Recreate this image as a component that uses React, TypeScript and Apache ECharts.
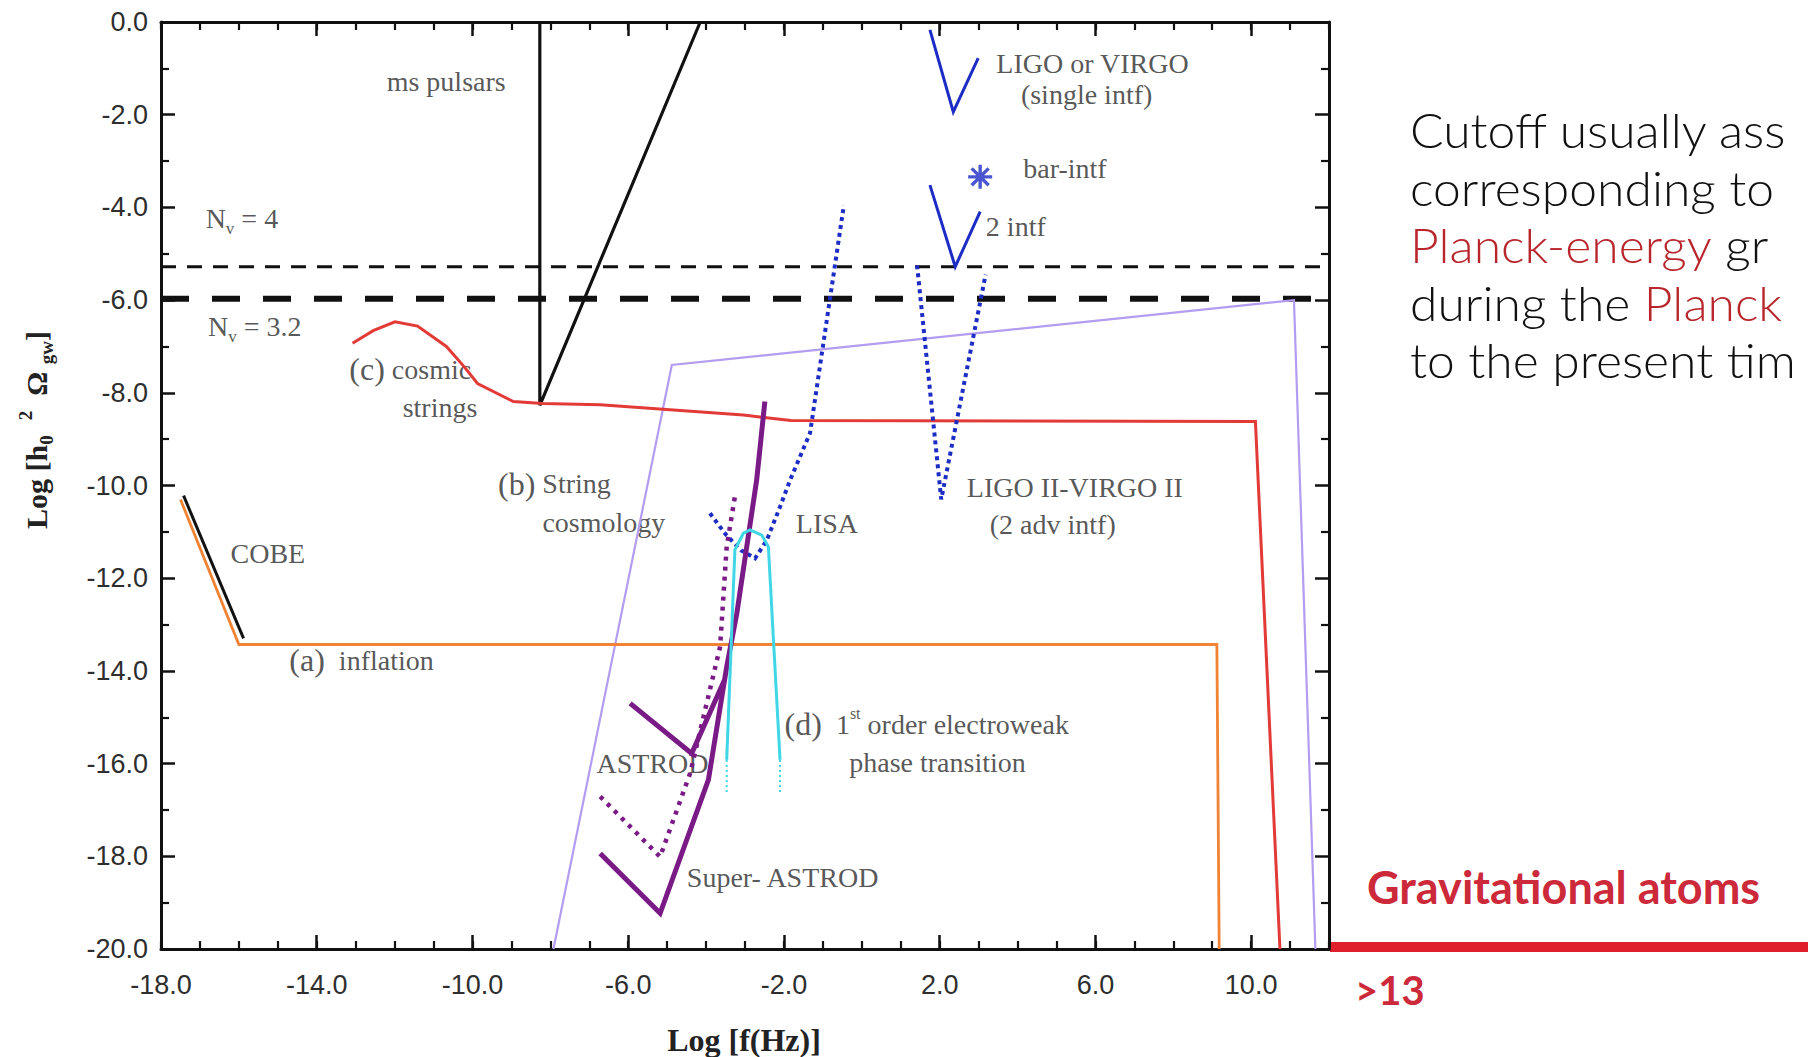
import React, { useEffect, useRef } from "react";
import * as echarts from "echarts";

// ---------- axes ----------
const X_MIN = -18;
const X_MAX = 12;
const Y_MIN = -20;
const Y_MAX = 0;
const X_MAJOR = 4;
const X_MINOR = 1;
const Y_MAJOR = 2;

// ---------- curves: [log f(Hz), log h0^2 Omega_gw] ----------
const nv4Line = [[-18, -5.28], [12, -5.28]];
const nv32Line = [[-18, -5.97], [12, -5.97]];
const msPulsars = [[-8.27, 0], [-8.27, -8.27], [-4.15, 0]];
const inflationA = [[-17.5, -10.3], [-16.0, -13.43], [9.12, -13.43], [9.18, -20]];
const cobe = [[-17.42, -10.22], [-15.88, -13.3]];
const cosmicStringsC = [
  [-13.08, -6.93], [-12.55, -6.66], [-11.99, -6.47], [-11.41, -6.56], [-10.67, -7.0],
  [-10.21, -7.44], [-9.87, -7.8], [-8.95, -8.19], [-8.2, -8.23], [-6.72, -8.26],
  [-3.04, -8.48], [-1.82, -8.6], [10.11, -8.62], [10.74, -20],
];
const stringCosmologyB = [[-7.92, -20], [-4.88, -7.4], [11.1, -6.0], [11.65, -20]];
const ligoSingle = [[1.75, -0.17], [2.35, -1.94], [2.99, -0.78]];
const ligoTwo = [[1.75, -3.52], [2.4, -5.28], [3.04, -4.09]];
const barIntf = [[3.04, -3.34]];
const ligoAdv = [[1.42, -5.25], [2.04, -10.3], [3.18, -5.45]];
const lisa = [
  [-3.9, -10.6], [-3.5, -11.05], [-3.1, -11.4], [-2.74, -11.57], [-2.44, -11.18],
  [-2.1, -10.46], [-1.84, -9.88], [-1.33, -8.87], [-0.46, -3.95],
];
const astrod = [[-5.95, -14.7], [-4.37, -15.78], [-3.53, -14.2]];
const superAstrod = [
  [-6.72, -17.94], [-5.18, -19.23], [-3.94, -16.35], [-3.47, -13.91], [-3.21, -12.76],
  [-2.7, -9.88], [-2.49, -8.19],
];
const superAstrodDotted = [
  [-6.72, -16.71], [-5.18, -18.01], [-4.41, -16.21], [-3.64, -13.48], [-3.47, -11.32], [-3.26, -10.24],
];
const electroweakD = [
  [-3.47, -15.92], [-3.26, -11.39], [-3.04, -11.03], [-2.87, -10.96], [-2.57, -11.07],
  [-2.4, -11.32], [-2.1, -15.92],
];
const electroweakTailL = [[-3.47, -15.92], [-3.47, -16.62]];
const electroweakTailR = [[-2.1, -15.92], [-2.1, -16.62]];

// ---------- in-plot annotations [text, x, y] (left edge anchored) ----------
const annotations: [string, number, number][] = [
  ["ms pulsars", -12.21, -1.28],
  ["{n|N}{s|v}{n| = 4}", -16.86, -4.23],
  ["{n|N}{s|v}{n| = 3.2}", -16.8, -6.56],
  ["{p|(c)} cosmic", -13.17, -7.49],
  ["strings", -11.8, -8.31],
  ["{p|(b)} String", -9.35, -9.96],
  ["cosmology", -8.21, -10.79],
  ["COBE", -16.22, -11.47],
  ["{p|(a)}  inflation", -14.71, -13.77],
  ["LISA", -1.7, -10.81],
  ["LIGO II-VIRGO II", 2.69, -10.05],
  ["(2 adv intf)", 3.28, -10.84],
  ["LIGO or VIRGO", 3.45, -0.89],
  ["(single intf)", 4.08, -1.56],
  ["bar-intf", 4.14, -3.16],
  ["2 intf", 3.18, -4.42],
  ["ASTROD", -6.82, -15.99],
  ["Super- ASTROD", -4.5, -18.45],
  ["{p|(d)}  {n|1}{sup|st}{n| order electroweak}", -1.99, -15.15],
  ["phase transition", -0.33, -15.97],
];

// ---------- slide text ----------
const slideLines = [
  "Cutoff usually ass",
  "corresponding to",
  "{r|Planck-energy} gr",
  "during the {r|Planck}",
  "to the present tim",
];
const atomsLabel = "Gravitational atoms";
const atomsValue = ">13";

const ASTERISK =
  "path://M-1.4,-10L1.4,-10L1.4,10L-1.4,10Z M-10,-1.4L10,-1.4L10,1.4L-10,1.4Z " +
  "M-8.061,-6.081L-6.081,-8.061L8.061,6.081L6.081,8.061Z " +
  "M-6.081,8.061L-8.061,6.081L6.081,-8.061L8.061,-6.081Z";

function lineSeries(data: number[][], color: string, width: number, type: any = "solid", z = 3) {
  return {
    type: "line",
    data,
    symbol: "none",
    showSymbol: false,
    silent: true,
    z,
    lineStyle: { color, width, type, cap: "butt", join: "miter" },
  };
}

export default function App() {
  const ref = useRef<HTMLDivElement>(null);

  useEffect(() => {
    if (!ref.current) return;
    const chart = echarts.init(ref.current, null, { renderer: "svg" });

    const AX = "#111";
    const tickLabel = { fontFamily: "Liberation Sans", fontSize: 27, color: "#2e2e2e" };

    const majorX = (pos: string, labels: boolean) => ({
      type: "value",
      gridIndex: 0,
      position: pos,
      min: X_MIN,
      max: X_MAX,
      interval: X_MAJOR,
      axisLine: { show: true, onZero: false, lineStyle: { color: AX, width: 3 } },
      axisTick: { show: true, inside: true, length: 14, lineStyle: { color: AX, width: 2.5 } },
      axisLabel: {
        show: labels,
        showMaxLabel: false,
        margin: 22,
        formatter: (v: number) => v.toFixed(1),
        ...tickLabel,
      },
      splitLine: { show: false },
    });
    const minorX = (pos: string) => ({
      type: "value",
      gridIndex: 1,
      position: pos,
      min: X_MIN,
      max: X_MAX,
      interval: X_MINOR,
      axisLine: { show: false, onZero: false },
      axisTick: { show: true, inside: true, length: 8, lineStyle: { color: AX, width: 2.2 } },
      axisLabel: { show: false },
      splitLine: { show: false },
    });
    const yAx = (pos: string, labels: boolean) => ({
      type: "value",
      gridIndex: 0,
      position: pos,
      min: Y_MIN,
      max: Y_MAX,
      interval: Y_MAJOR,
      axisLine: { show: true, onZero: false, lineStyle: { color: AX, width: 3 } },
      axisTick: { show: true, inside: true, length: 14, lineStyle: { color: AX, width: 2.5 } },
      minorTick: { show: true, splitNumber: 2, length: 8, lineStyle: { color: AX, width: 2.2 } },
      axisLabel: { show: labels, margin: 13, formatter: (v: number) => v.toFixed(1), ...tickLabel },
      splitLine: { show: false },
      minorSplitLine: { show: false },
    });

    const labelRich = {
      p: { fontFamily: "Liberation Serif", fontSize: 32, color: "#2b2b2b" },
      n: { fontFamily: "Liberation Serif", fontSize: 28, color: "#2b2b2b", lineHeight: 38 },
      s: { fontFamily: "Liberation Serif", fontSize: 17, color: "#2b2b2b", lineHeight: 17, verticalAlign: "bottom" },
      sup: { fontFamily: "Liberation Serif", fontSize: 16, color: "#2b2b2b", lineHeight: 16, verticalAlign: "top" },
    };

    const serifBold = { fontFamily: "Liberation Serif", fontWeight: "bold" };

    const option: any = {
      animation: false,
      backgroundColor: "#ffffff",
      grid: [
        { left: 161, right: 479, top: 22, bottom: 108, containLabel: false },
        { left: 161, right: 479, top: 22, bottom: 108, containLabel: false },
      ],
      xAxis: [majorX("bottom", true), majorX("top", false), minorX("bottom"), minorX("top")],
      yAxis: [
        yAx("left", true),
        yAx("right", false),
        { type: "value", gridIndex: 1, min: Y_MIN, max: Y_MAX, show: false },
      ],
      series: [
        {
          type: "scatter",
          data: annotations.map((a) => ({ name: a[0], value: [a[1], a[2]] })),
          symbolSize: 0.5,
          itemStyle: { color: "transparent" },
          silent: true,
          z: 1,
          label: {
            show: true,
            position: "right",
            distance: 0,
            formatter: (p: any) => p.name,
            fontFamily: "Liberation Serif",
            fontSize: 28,
            color: "#2b2b2b",
            rich: labelRich,
          },
        },
        lineSeries(nv4Line, "#111", 3, [15, 11], 2),
        lineSeries(nv32Line, "#111", 6, [28, 23], 2),
        lineSeries(msPulsars, "#111", 3.2),
        lineSeries(stringCosmologyB, "#b49cf0", 2.2),
        lineSeries(inflationA, "#f08334", 2.8),
        lineSeries(cobe, "#111", 3),
        lineSeries(cosmicStringsC, "#e23a36", 3),
        lineSeries(ligoSingle, "#1c2cc4", 3),
        lineSeries(ligoTwo, "#1c2cc4", 3),
        lineSeries(ligoAdv, "#1c2cc4", 4, [4, 4]),
        lineSeries(lisa, "#1c2cc4", 4, [4, 4]),
        lineSeries(superAstrodDotted, "#7a1a86", 4.5, [4, 6]),
        lineSeries(astrod, "#7a1a86", 5),
        lineSeries(superAstrod, "#7a1a86", 5),
        lineSeries(electroweakD, "#3fd6e6", 3, "solid", 4),
        lineSeries(electroweakTailL, "#3fd6e6", 2, [2, 3], 4),
        lineSeries(electroweakTailR, "#3fd6e6", 2, [2, 3], 4),
        {
          type: "scatter",
          data: barIntf,
          symbol: ASTERISK,
          symbolSize: 24,
          itemStyle: { color: "#1c2cc4" },
          silent: true,
          z: 5,
        },
      ],
      graphic: [
        {
          type: "text",
          x: 744,
          y: 1040,
          style: {
            text: "Log [f(Hz)]",
            ...serifBold,
            fontSize: 32,
            fill: "#222",
            align: "center",
            verticalAlign: "middle",
            textAlign: "center",
            textVerticalAlign: "middle",
          },
        },
        {
          type: "text",
          x: 36,
          y: 430,
          rotation: Math.PI / 2,
          style: {
            text: "{m|Log [h}{b|0}{m|  }{t|2}{m|  Ω }{b|gw}{m|]}",
            ...serifBold,
            fontSize: 30,
            fill: "#222",
            align: "center",
            verticalAlign: "middle",
            textAlign: "center",
            textVerticalAlign: "middle",
            rich: {
              m: { ...serifBold, fontSize: 30, lineHeight: 40, fill: "#222", color: "#222" },
              b: { ...serifBold, fontSize: 19, lineHeight: 19, verticalAlign: "bottom", fill: "#222", color: "#222" },
              t: { ...serifBold, fontSize: 19, lineHeight: 19, verticalAlign: "top", fill: "#222", color: "#222" },
            },
          },
        },
        {
          type: "rect",
          shape: { x: 1330, y: 942, width: 478, height: 10 },
          style: { fill: "#e01f2d" },
        },
        {
          type: "text",
          x: 1367,
          y: 887,
          style: {
            text: atomsLabel,
            fontFamily: "Lato",
            fontWeight: "bold",
            fontSize: 45,
            fill: "#cc2a3a",
            verticalAlign: "middle",
            textVerticalAlign: "middle",
          },
        },
        {
          type: "text",
          x: 1355,
          y: 990,
          style: {
            text: atomsValue,
            fontFamily: "Lato",
            fontWeight: "bold",
            fontSize: 40,
            fill: "#cc2a3a",
            verticalAlign: "middle",
            textVerticalAlign: "middle",
          },
        },
        {
          type: "text",
          x: 1410,
          y: 101,
          scaleX: 1.06,
          style: {
            text: slideLines.join("\n"),
            fontFamily: "Lato",
            fontWeight: 300,
            fontSize: 47,
            lineHeight: 57.5,
            fill: "#111",
            verticalAlign: "top",
            textVerticalAlign: "top",
            rich: {
              r: { fontFamily: "Lato", fontWeight: 300, fontSize: 47, lineHeight: 57.5, fill: "#b8262c", color: "#b8262c" },
            },
          },
        },
      ],
    };

    chart.setOption(option);
    return () => chart.dispose();
  }, []);

  return (
    <div
      ref={ref}
      style={{ position: "fixed", left: 0, top: 0, width: 1808, height: 1057, background: "#fff" }}
    />
  );
}
